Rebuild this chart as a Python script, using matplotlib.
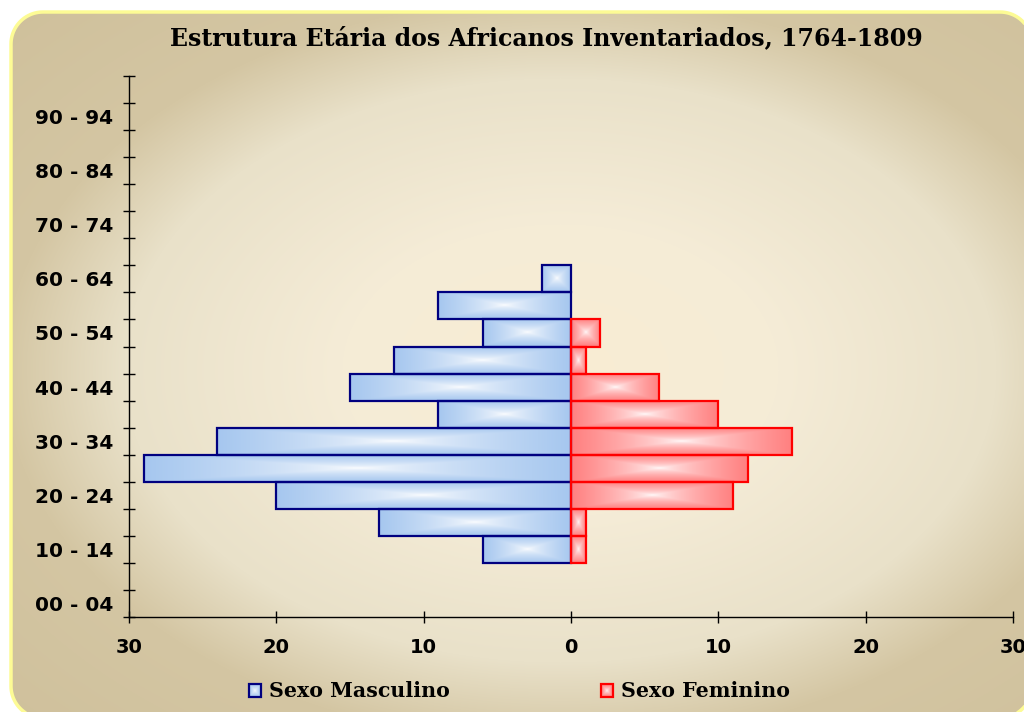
import numpy as np
import matplotlib
matplotlib.use('Agg')
import matplotlib.pyplot as plt
from matplotlib.patches import Polygon, Rectangle

# ---------------- data ----------------
age_groups = ['00 - 04', '05 - 09', '10 - 14', '15 - 19', '20 - 24', '25 - 29',
              '30 - 34', '35 - 39', '40 - 44', '45 - 49', '50 - 54', '55 - 59',
              '60 - 64', '65 - 69', '70 - 74', '75 - 79', '80 - 84', '85 - 89',
              '90 - 94', '95 - 99']
male = [0, 0, 6, 13, 20, 29, 24, 9, 15, 12, 6, 9, 2, 0, 0, 0, 0, 0, 0, 0]
female = [0, 0, 1, 1, 11, 12, 15, 10, 6, 1, 2, 0, 0, 0, 0, 0, 0, 0, 0, 0]
series_names = ['Sexo Masculino', 'Sexo Feminino']
x_ticks = [-30, -20, -10, 0, 10, 20, 30]
title = 'Estrutura Etária dos Africanos Inventariados, 1764-1809'

W, H = 1024, 712
fig = plt.figure(figsize=(W / 100, H / 100), dpi=100)
fig.patch.set_facecolor('white')

# ---------------- background (pixel coords, origin bottom-left) ----------------
bg = fig.add_axes([0, 0, 1, 1])
bg.set_xlim(0, W)
bg.set_ylim(0, H)
bg.axis('off')

yy, xx = np.mgrid[0:H, 0:W]          # row 0 = top of picture
cx, cy, hw, hh = 560, 370, 545, 365
r = np.sqrt(((xx - cx) / hw) ** 2 + ((yy - cy) / hh) ** 2)
stops = np.array([0.0, 0.4, 0.8, 1.02, 1.5])
cols = np.array([[249, 236, 211], [245, 236, 215], [233, 225, 201],
                 [212, 198, 163], [206, 191, 154]]) / 255.0
img = np.zeros((H, W, 3))
for c in range(3):
    img[..., c] = np.interp(r, stops, cols[:, c])


def rounded_rect(x0, y0, x1, y1, rad, n=24):
    pts = []
    corners = [(x1 - rad, y1 - rad, 0), (x0 + rad, y1 - rad, 90),
               (x0 + rad, y0 + rad, 180), (x1 - rad, y0 + rad, 270)]
    for ccx, ccy, a0 in corners:
        a = np.deg2rad(np.linspace(a0, a0 + 90, n))
        pts.extend(zip(ccx + rad * np.cos(a), ccy + rad * np.sin(a)))
    return np.array(pts)


fx0, fy_top, fx1, fy_bot = 11, 12, 1032, 718   # frame in picture pixels
frame_pts = rounded_rect(fx0, H - fy_bot, fx1, H - fy_top, 32)
frame = Polygon(frame_pts, closed=True, facecolor='none', edgecolor='none')
bg.add_patch(frame)
im = bg.imshow(img, extent=[0, W, 0, H], origin='upper', aspect='auto', zorder=0)
im.set_clip_path(frame)
border = Polygon(frame_pts, closed=True, facecolor='none', edgecolor='#fdfb95',
                 linewidth=2.5, zorder=1)
bg.add_patch(border)


def grad_img(color, n=64, m=256):
    v, u = np.mgrid[-1:1:complex(0, n), -1:1:complex(0, m)]
    t = np.maximum(np.abs(u), np.abs(v)) ** 0.65
    base = np.array(matplotlib.colors.to_rgb(color))
    white = np.ones(3)
    return white[None, None, :] * (1 - t[..., None]) + base[None, None, :] * t[..., None]


# ---------------- main axes ----------------
ax = fig.add_axes([129 / W, 1 - 617 / H, 884 / W, 541 / H])
ax.patch.set_alpha(0)

male_fill, male_edge = '#a6c7ef', '#000080'
fem_fill, fem_edge = '#ff8080', '#ff0000'

for i, v in enumerate(male):
    if v > 0:
        ax.imshow(grad_img(male_fill), extent=[-v, 0, i, i + 1], aspect='auto',
                  interpolation='bilinear', zorder=2)
        ax.add_patch(Rectangle((-v, i), v, 1, facecolor='none', edgecolor=male_edge,
                               linewidth=1.6, zorder=3))
for i, v in enumerate(female):
    if v > 0:
        ax.imshow(grad_img(fem_fill), extent=[0, v, i, i + 1], aspect='auto',
                  interpolation='bilinear', zorder=2)
        ax.add_patch(Rectangle((0, i), v, 1, facecolor='none', edgecolor=fem_edge,
                               linewidth=1.6, zorder=3))

ax.set_xlim(-30, 30)
ax.set_ylim(0, len(age_groups))
for s in ['top', 'right']:
    ax.spines[s].set_visible(False)
for s in ['left', 'bottom']:
    ax.spines[s].set_color('black')
    ax.spines[s].set_linewidth(1.0)

ax.set_yticks(np.arange(0, len(age_groups) + 1))
ax.set_yticklabels([])
ax.set_yticks(np.arange(0, len(age_groups), 2) + 0.5, minor=True)
ax.set_yticklabels(age_groups[::2], minor=True, fontsize=14.5, fontweight='bold',
                   family='DejaVu Sans')
ax.tick_params(axis='y', which='major', direction='inout', length=8.6, width=1.0)
ax.tick_params(axis='y', which='minor', length=0, pad=11.5)

ax.set_xticks(x_ticks)
ax.set_xticklabels([str(abs(t)) for t in x_ticks], fontsize=14, fontweight='bold',
                   family='DejaVu Sans')
ax.tick_params(axis='x', direction='inout', length=8.6, width=1.0, pad=11)

# ---------------- title ----------------
fig.text(546 / W, 1 - 38 / H, title, ha='center', va='center', fontsize=17,
         fontweight='bold', family='DejaVu Serif')

# ---------------- legend ----------------
leg_items = [(249, male_fill, male_edge), (601, fem_fill, fem_edge)]
for (lx, fc, ec), name in zip(leg_items, series_names):
    y0 = H - 697
    bg.imshow(grad_img(fc, 16, 16), extent=[lx, lx + 12, y0, y0 + 13], aspect='auto',
              interpolation='bilinear', zorder=2)
    bg.add_patch(Rectangle((lx, y0), 12, 13, facecolor='none', edgecolor=ec,
                           linewidth=1.6, zorder=3))
    bg.text(lx + 20, H - 691, name, ha='left', va='center', fontsize=14.8,
            fontweight='bold', family='DejaVu Serif', zorder=3)
bg.set_xlim(0, W)
bg.set_ylim(0, H)

fig.savefig('out.png', dpi=100, facecolor='white')
